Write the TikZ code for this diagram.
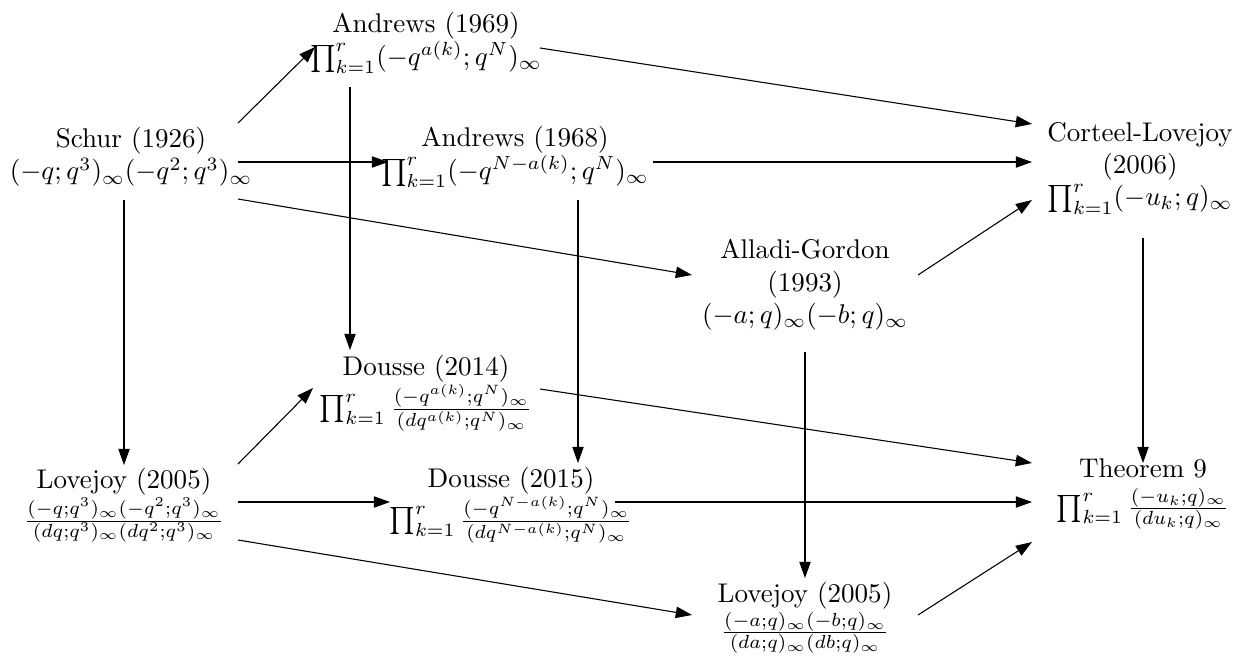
\documentclass[tikz,border=0pt]{standalone}
\usepackage{amsmath,amssymb}
\usetikzlibrary{arrows.meta}
\tikzset{
  res/.style={align=center,inner sep=2pt},
  arr/.style={-{Triangle[length=6pt,width=4.2pt]}},
}
\begin{document}
\begin{tikzpicture}[x=0.013cm,y=-0.013cm]
\useasboundingbox (0,0) rectangle (1240,658);
\node[res] (schur) at (131,157) {Schur (1926)\\$(-q;q^3)_\infty(-q^2;q^3)_\infty$};
\node[res] (a69) at (426,43) {Andrews (1969)\\$\prod_{k=1}^r(-q^{a(k)};q^N)_\infty$};
\node[res] (a68) at (515,157) {Andrews (1968)\\$\prod_{k=1}^r(-q^{N-a(k)};q^N)_\infty$};
\node[res] (cl) at (1140,168) {Corteel-Lovejoy\\(2006)\\$\prod_{k=1}^r(-u_k;q)_\infty$};
\node[res] (ag) at (805,285) {Alladi-Gordon\\(1993)\\$(-a;q)_\infty(-b;q)_\infty$};
\node[res] (l05) at (124,505) {Lovejoy (2005)\\$\frac{(-q;q^3)_\infty(-q^2;q^3)_\infty}{(dq;q^3)_\infty(dq^2;q^3)_\infty}$};
\node[res] (d14) at (426,393) {Dousse (2014)\\$\prod_{k=1}^r\frac{(-q^{a(k)};q^N)_\infty}{(dq^{a(k)};q^N)_\infty}$};
\node[res] (d15) at (511,505) {Dousse (2015)\\$\prod_{k=1}^r\frac{(-q^{N-a(k)};q^N)_\infty}{(dq^{N-a(k)};q^N)_\infty}$};
\node[res] (l05r) at (805,618) {Lovejoy (2005)\\$\frac{(-a;q)_\infty(-b;q)_\infty}{(da;q)_\infty(db;q)_\infty}$};
\node[res] (thm) at (1143,494) {Theorem 9\\[2pt]$\prod_{k=1}^r\frac{(-u_k;q)_\infty}{(du_k;q)_\infty}$};
% out of Schur
\draw[arr] ([shift={(107,-34)}]schur.center)--([shift={(-111,4)}]a69.center);
\draw[arr] ([shift={(107,5)}]schur.center)--([shift={(-127,5)}]a68.center);
\draw[arr] ([shift={(107,42)}]schur.center)--([shift={(-113,-10)}]ag.center);
\draw[arr] ([shift={(-7,43)}]schur.center)--([shift={(0,-40)}]l05.center);
% Andrews
\draw[arr] ([shift={(114,5)}]a69.center)--([shift={(-108,-44)}]cl.center);
\draw[arr] ([shift={(-76,44)}]a69.center)--([shift={(-76,-43)}]d14.center);
\draw[arr] ([shift={(138,5)}]a68.center)--([shift={(-108,-6)}]cl.center);
\draw[arr] ([shift={(63,43)}]a68.center)--([shift={(67,-42)}]d15.center);
% Alladi-Gordon
\draw[arr] ([shift={(113,-10)}]ag.center)--([shift={(-108,32)}]cl.center);
\draw[arr] ([shift={(0,67)}]ag.center)--([shift={(0,-40)}]l05r.center);
% out of Lovejoy
\draw[arr] ([shift={(114,-41)}]l05.center)--([shift={(-113,-5)}]d14.center);
\draw[arr] ([shift={(114,-3)}]l05.center)--([shift={(-121,-3)}]d15.center);
\draw[arr] ([shift={(114,35)}]l05.center)--([shift={(-113,-3)}]l05r.center);
% into Theorem 9
\draw[arr] ([shift={(3,70)}]cl.center)--([shift={(0,-31)}]thm.center);
\draw[arr] ([shift={(114,-4)}]d14.center)--([shift={(-111,-31)}]thm.center);
\draw[arr] ([shift={(104,-3)}]d15.center)--([shift={(-111,8)}]thm.center);
\draw[arr] ([shift={(113,-3)}]l05r.center)--([shift={(-111,48)}]thm.center);
\end{tikzpicture}
\end{document}
